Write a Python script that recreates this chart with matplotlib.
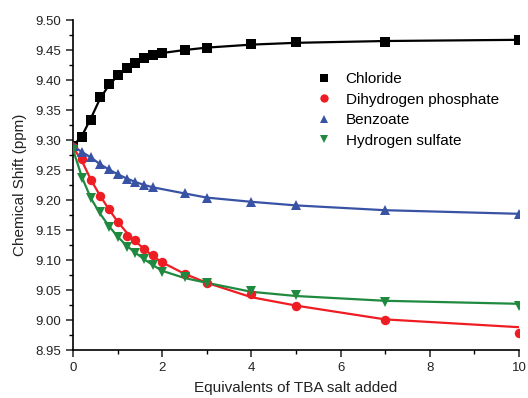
import matplotlib
matplotlib.use("Agg")
import matplotlib.pyplot as plt
from matplotlib.lines import Line2D
from matplotlib.ticker import MultipleLocator

plt.rcParams['font.family'] = ['Liberation Sans', 'DejaVu Sans']

# Titration data (equivalents of TBA salt vs chemical shift)
eq_full = [0, 0.2, 0.4, 0.6, 0.8, 1.0, 1.2, 1.4, 1.6, 1.8, 2.0, 2.5, 3, 4, 5, 7, 10]
eq_benz = [0, 0.2, 0.4, 0.6, 0.8, 1.0, 1.2, 1.4, 1.6, 1.8, 2.5, 3, 4, 5, 7, 10]

chloride = [9.290, 9.305, 9.334, 9.372, 9.393, 9.409, 9.420, 9.429, 9.437, 9.442,
            9.445, 9.450, 9.454, 9.460, 9.463, 9.464, 9.467]
phosphate = [9.288, 9.269, 9.233, 9.207, 9.185, 9.164, 9.140, 9.133, 9.119, 9.108,
             9.096, 9.077, 9.062, 9.043, 9.023, 9.000, 8.979]
benzoate = [9.290, 9.280, 9.271, 9.260, 9.251, 9.243, 9.235, 9.230, 9.225, 9.221,
            9.211, 9.204, 9.196, 9.191, 9.183, 9.176]
sulfate = [9.284, 9.236, 9.203, 9.180, 9.155, 9.138, 9.121, 9.112, 9.102, 9.091,
           9.080, 9.071, 9.062, 9.049, 9.041, 9.030, 9.023]

# fitted curves, read at the same x positions
chloride_fit = [9.290, 9.307, 9.336, 9.368, 9.391, 9.407, 9.419, 9.428, 9.435, 9.441,
                9.445, 9.450, 9.454, 9.459, 9.462, 9.465, 9.467]
phosphate_fit = [9.288, 9.265, 9.234, 9.208, 9.185, 9.164, 9.146, 9.131, 9.118, 9.106,
                 9.096, 9.077, 9.062, 9.038, 9.024, 9.001, 8.988]
benzoate_fit = [9.290, 9.280, 9.271, 9.260, 9.251, 9.243, 9.236, 9.230, 9.225, 9.221,
                9.211, 9.204, 9.197, 9.191, 9.183, 9.177]
sulfate_fit = [9.284, 9.238, 9.203, 9.178, 9.157, 9.139, 9.124, 9.112, 9.101, 9.091,
               9.082, 9.070, 9.062, 9.047, 9.040, 9.032, 9.027]

labels = ["Chloride", "Dihydrogen phosphate", "Benzoate", "Hydrogen sulfate"]
colors = ["#000000", "#ee1d23", "#3953a4", "#1f8a3f"]
markers = ["s", "o", "^", "v"]
msizes = [6.5, 6.8, 7.2, 7.2]

fig = plt.figure(figsize=(5.28, 3.98), dpi=100)
ax = fig.add_axes([0.1383, 0.1206, 0.8447, 0.8291])

series = [
    (eq_full, chloride, chloride_fit),
    (eq_full, phosphate, phosphate_fit),
    (eq_benz, benzoate, benzoate_fit),
    (eq_full, sulfate, sulfate_fit),
]

for (xs, ys, fit), c in zip(series, colors):
    ax.plot(xs, fit, color=c, linewidth=1.6, zorder=2)
for (xs, ys, fit), c, m, ms in zip(series, colors, markers, msizes):
    ax.plot(xs, ys, linestyle="none", marker=m, color=c, markersize=ms,
            markeredgewidth=0, zorder=3)

ax.set_xlim(0, 10)
ax.set_ylim(8.95, 9.50)
ax.xaxis.set_major_locator(MultipleLocator(2))
ax.xaxis.set_minor_locator(MultipleLocator(1))
ax.yaxis.set_major_locator(MultipleLocator(0.05))
ax.yaxis.set_minor_locator(MultipleLocator(0.025))
ax.yaxis.set_major_formatter(plt.FormatStrFormatter("%.2f"))

for side in ["top", "right"]:
    ax.spines[side].set_visible(False)
for side in ["left", "bottom"]:
    ax.spines[side].set_linewidth(1.2)

ax.tick_params(which="major", direction="out", length=5, width=1.1,
               labelsize=9.5, colors="#222222")
ax.tick_params(which="minor", direction="out", length=3, width=1.0)

ax.set_xlabel("Equivalents of TBA salt added", fontsize=11, color="#222222", labelpad=5)
ax.set_ylabel("Chemical Shift (ppm)", fontsize=11, color="#222222", labelpad=6)

handles = [Line2D([], [], linestyle="none", marker=m, color=c, markersize=6,
                  markeredgewidth=0) for m, c in zip(markers, colors)]
ax.legend(handles, labels, loc="center left", bbox_to_anchor=(316.5 / 528, 1 - 110 / 398),
          bbox_transform=fig.transFigure, frameon=False, fontsize=11,
          handlelength=1.0, handletextpad=0.9, labelspacing=0.42, borderpad=0,
          borderaxespad=0)

fig.savefig("out.png", dpi=100)
